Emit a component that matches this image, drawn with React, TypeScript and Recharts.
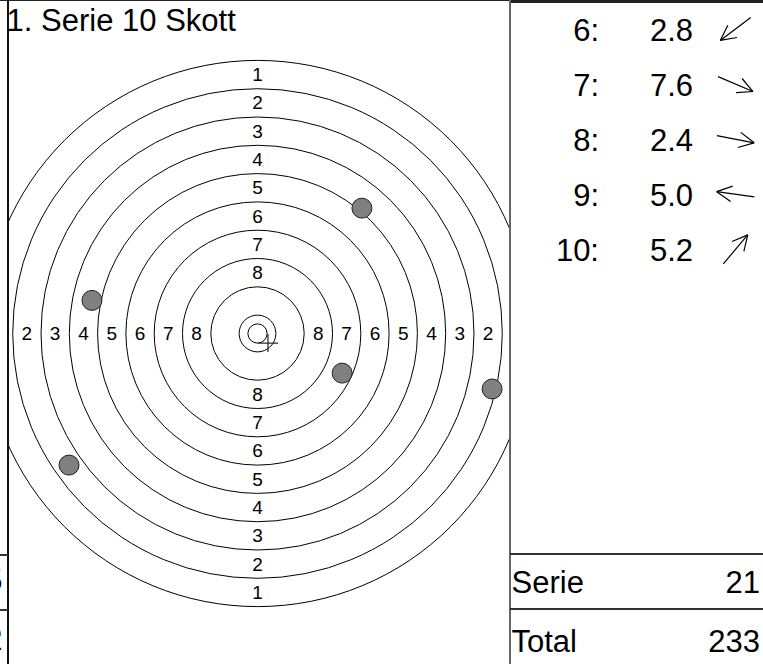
import React from "react";
import { ScatterChart, Scatter, XAxis, YAxis } from "recharts";

// target rings, radius in ring widths from the centre
const RING_VALUES = [1, 2, 3, 4, 5, 6, 7, 8, 9, 10];
const RING_RADII = [9.65, 8.65, 7.65, 6.65, 5.65, 4.65, 3.65, 2.65, 1.65, 0.65];
const INNER_TEN_RADIUS = 0.34;
const LABEL_VALUES = [1, 2, 3, 4, 5, 6, 7, 8];

// hits on the target (ring widths, y up)
const HIT_X = [3.69, -5.85, 2.99, 8.29, -6.66];
const HIT_Y = [4.43, 1.17, -1.4, -1.96, -4.65];
const MEAN_X = 0.37;
const MEAN_Y = -0.34;

// shot list on the right
const SHOT_NO = ["6:", "7:", "8:", "9:", "10:"];
const SHOT_VALUE = ["2.8", "7.6", "2.4", "5.0", "5.2"];
const SHOT_DIR = [217, -23, -11, 172, 50];

const TITLE = "1. Serie 10 Skott";
const SERIE_SUM = "21";
const TOTAL_SUM = "233";

const FONT = "'Liberation Sans', Arial, sans-serif";

// chart placement
const CHART_LEFT = 9;
const CHART_TOP = 3;
const CHART_W = 500;
const CHART_H = 661;
const PX = 28.3; // pixels per ring width
const CX = 248.5;
const CY = 330.5;
const X_DOMAIN = [-CX / PX, (CHART_W - CX) / PX];
const Y_DOMAIN = [-(CHART_H - CY) / PX, CY / PX];

const rings = RING_VALUES.map((v, i) => ({ x: 0, y: 0, r: RING_RADII[i], v }));
rings.push({ x: 0, y: 0, r: INNER_TEN_RADIUS, v: 11 });

const labels: { x: number; y: number; t: string }[] = [];
LABEL_VALUES.forEach((v, i) => {
  const d = RING_RADII[i] - 0.5;
  labels.push({ x: 0, y: d, t: String(v) });
  labels.push({ x: 0, y: -d, t: String(v) });
  if (v > 1) {
    labels.push({ x: -d, y: 0, t: String(v) });
    labels.push({ x: d, y: 0, t: String(v) });
  }
});

const hits = HIT_X.map((x, i) => ({ x, y: HIT_Y[i] }));
const mean = [{ x: MEAN_X, y: MEAN_Y }];

const RingShape = (p: any) => (
  <circle cx={p.cx} cy={p.cy} r={p.payload.r * PX} fill="none" stroke="#000" strokeWidth={1} />
);

const LabelShape = (p: any) => (
  <text
    x={p.cx}
    y={p.cy}
    textAnchor="middle"
    dominantBaseline="central"
    fontSize={19}
    fontFamily={FONT}
    fill="#000"
  >
    {p.payload.t}
  </text>
);

const HitShape = (p: any) => (
  <circle cx={p.cx} cy={p.cy} r={10} fill="#808080" stroke="#222" strokeWidth={1} />
);

const MeanShape = (p: any) => (
  <g stroke="#222" strokeWidth={1.2}>
    <line x1={p.cx - 10} y1={p.cy} x2={p.cx + 10} y2={p.cy} />
    <line x1={p.cx} y1={p.cy - 9} x2={p.cx} y2={p.cy + 9} />
  </g>
);

const Arrow = ({ x, y, deg }: { x: number; y: number; deg: number }) => {
  const a = (deg * Math.PI) / 180;
  const L = 19;
  const tx = x + L * Math.cos(a);
  const ty = y - L * Math.sin(a);
  const bx = x - L * Math.cos(a);
  const by = y + L * Math.sin(a);
  const head = (off: number) => {
    const b = a + Math.PI + (off * Math.PI) / 180;
    return { x: tx + 17 * Math.cos(b), y: ty - 17 * Math.sin(b) };
  };
  const h1 = head(27);
  const h2 = head(-27);
  return (
    <g stroke="#000" strokeWidth={1.2} fill="none">
      <line x1={bx} y1={by} x2={tx} y2={ty} />
      <line x1={tx} y1={ty} x2={h1.x} y2={h1.y} />
      <line x1={tx} y1={ty} x2={h2.x} y2={h2.y} />
    </g>
  );
};

const App = () => {
  return (
    <div
      style={{
        position: "absolute",
        left: 0,
        top: 0,
        width: 763,
        height: 664,
        overflow: "hidden",
        background: "#fff",
      }}
    >
      <svg width={763} height={664} style={{ position: "absolute", left: 0, top: 0 }}>
        <line x1={0} y1={0.5} x2={763} y2={0.5} stroke="#222" strokeWidth={1} />
        <line x1={510} y1={1.5} x2={763} y2={1.5} stroke="#222" strokeWidth={3} />
        <line x1={8} y1={0} x2={8} y2={664} stroke="#111" strokeWidth={2} />
        <line x1={510} y1={0} x2={510} y2={664} stroke="#666" strokeWidth={2} />
        <line x1={0} y1={555} x2={8} y2={555} stroke="#333" strokeWidth={2} />
        <line x1={0} y1={610} x2={8} y2={610} stroke="#333" strokeWidth={2} />
        <line x1={510} y1={554} x2={763} y2={554} stroke="#333" strokeWidth={2} />
        <line x1={510} y1={609} x2={763} y2={609} stroke="#333" strokeWidth={2} />

        <g fontFamily={FONT} fontSize={31} fill="#000">
          <text x={2.5} y={591} textAnchor="end">5</text>
          <text x={2.5} y={650} textAnchor="end">2</text>
          <text x={6.6} y={31}>{TITLE}</text>
          {SHOT_NO.map((n, i) => (
            <text key={"n" + i} x={599} y={40.7 + i * 55.1} textAnchor="end">
              {n}
            </text>
          ))}
          {SHOT_VALUE.map((v, i) => (
            <text key={"v" + i} x={693} y={40.7 + i * 55.1} textAnchor="end">
              {v}
            </text>
          ))}
          <text x={511.5} y={593}>Serie</text>
          <text x={760} y={593} textAnchor="end">{SERIE_SUM}</text>
          <text x={511.5} y={652}>Total</text>
          <text x={760} y={652} textAnchor="end">{TOTAL_SUM}</text>
        </g>
        {SHOT_DIR.map((d, i) => (
          <Arrow key={"a" + i} x={735.5} y={29 + i * 55.1} deg={d} />
        ))}
      </svg>

      <div style={{ position: "absolute", left: CHART_LEFT, top: CHART_TOP }}>
        <ScatterChart
          width={CHART_W}
          height={CHART_H}
          margin={{ top: 0, right: 0, bottom: 0, left: 0 }}
        >
          <XAxis type="number" dataKey="x" domain={X_DOMAIN} allowDataOverflow hide />
          <YAxis type="number" dataKey="y" domain={Y_DOMAIN} allowDataOverflow hide />
          <Scatter data={rings} shape={RingShape} isAnimationActive={false} />
          <Scatter data={labels} shape={LabelShape} isAnimationActive={false} />
          <Scatter data={hits} shape={HitShape} isAnimationActive={false} />
          <Scatter data={mean} shape={MeanShape} isAnimationActive={false} />
        </ScatterChart>
      </div>
    </div>
  );
};

export default App;
